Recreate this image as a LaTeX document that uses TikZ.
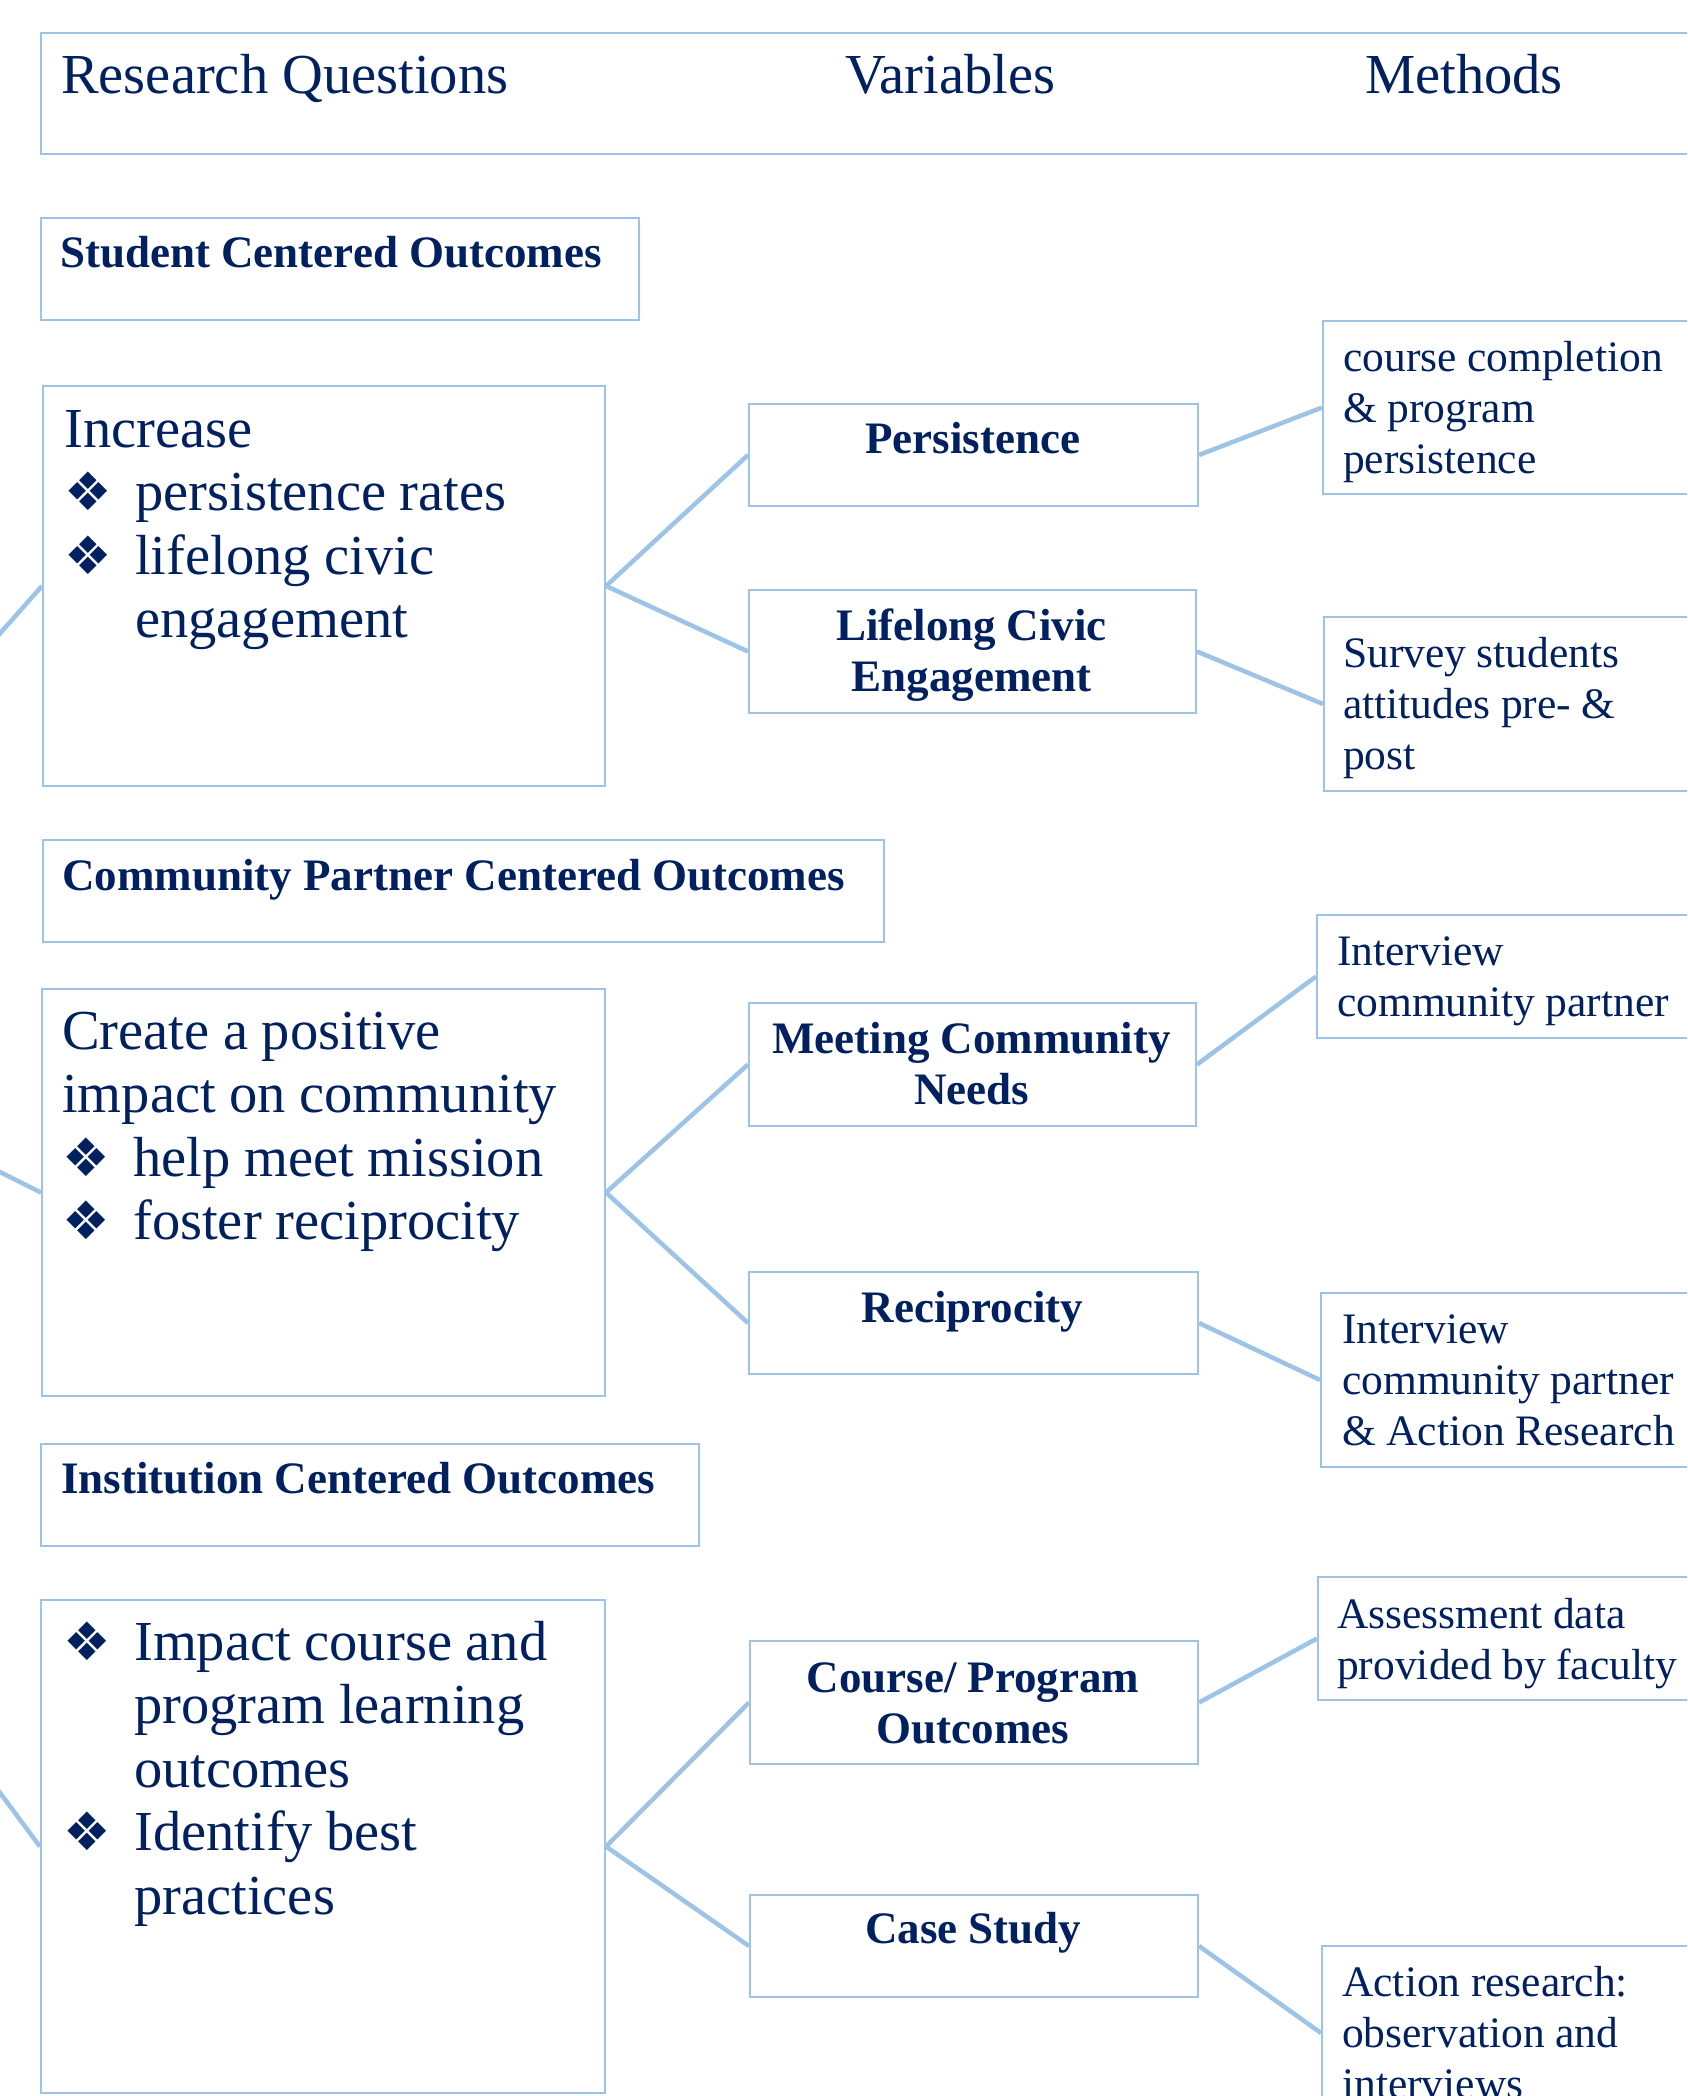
\documentclass[tikz,border=0pt]{standalone}
\usepackage{fontspec}
\setmainfont{Liberation Serif}
\newfontfamily\bulfont{DejaVu Sans}
\definecolor{navy}{HTML}{002060}
\definecolor{lblue}{HTML}{9DC3E6}
\newcommand{\bul}{\makebox[71pt][l]{\bulfont\fontsize{53}{53}\selectfont ❖}}
\newcommand{\ind}{\hspace*{71pt}}
\newcommand{\rigid}{\spaceskip=0.24em plus 0pt minus 0pt\relax}
\tikzset{
  box/.style={draw=lblue, line width=2pt, inner sep=0pt, anchor=north west, rectangle},
  title/.style={inner sep=0pt, anchor=base west, text=navy, font=\fontsize{56.5}{63.5}\selectfont},
  big/.style={inner sep=0pt, anchor=base west, text width=540pt, align=left, text=navy, font=\fontsize{56.5}{63.5}\selectfont},
  hd/.style={inner sep=0pt, anchor=base west, text=navy, font=\bfseries\fontsize{45}{51}\selectfont},
  var/.style={inner sep=0pt, anchor=base, text width=440pt, align=center, text=navy, font=\bfseries\fontsize{45}{51}\selectfont},
  meth/.style={inner sep=0pt, anchor=base west, text width=420pt, align=left, text=navy, font=\fontsize{43.5}{51}\selectfont},
  conn/.style={draw=lblue, line width=4.5pt}
}
\begin{document}
\begin{tikzpicture}[x=1pt, y=-1pt]
\useasboundingbox (0,0) rectangle (1687,2096);
\clip (0,0) rectangle (1687,2096);
% boxes
\node[box, minimum width=1680pt, minimum height=121pt] (hdr) at (40,32) {};
\node[box, minimum width=598pt, minimum height=102pt] (stud) at (40,217) {};
\node[box, minimum width=562pt, minimum height=400pt] (inc) at (42,385) {};
\node[box, minimum width=449pt, minimum height=102pt] (pers) at (748,403) {};
\node[box, minimum width=447pt, minimum height=123pt] (life) at (748,589) {};
\node[box, minimum width=400pt, minimum height=173pt] (cc) at (1322,320) {};
\node[box, minimum width=400pt, minimum height=174pt] (surv) at (1323,616) {};
\node[box, minimum width=841pt, minimum height=102pt] (comm) at (42,839) {};
\node[box, minimum width=563pt, minimum height=407pt] (create) at (41,988) {};
\node[box, minimum width=447pt, minimum height=123pt] (meet) at (748,1002) {};
\node[box, minimum width=449pt, minimum height=102pt] (recip) at (748,1271) {};
\node[box, minimum width=400pt, minimum height=123pt] (int1) at (1316,914) {};
\node[box, minimum width=400pt, minimum height=174pt] (int2) at (1320,1292) {};
\node[box, minimum width=658pt, minimum height=102pt] (inst) at (40,1443) {};
\node[box, minimum width=564pt, minimum height=493pt] (impact) at (40,1599) {};
\node[box, minimum width=448pt, minimum height=123pt] (course) at (749,1640) {};
\node[box, minimum width=448pt, minimum height=102pt] (case) at (749,1894) {};
\node[box, minimum width=400pt, minimum height=123pt] (assess) at (1317,1576) {};
\node[box, minimum width=400pt, minimum height=174pt] (action) at (1321,1945) {};
% texts
\node[title] (tRQ) at (61,93) {Research Questions};
\node[title] (tVar) at (845,93) {Variables};
\node[title] (tMeth) at (1365,93) {Methods};
\node[hd] (tStud) at (60,267) {Student Centered Outcomes};
\node[hd] (tComm) at (62,890) {Community Partner Centered Outcomes};
\node[hd] (tInst) at (61,1493) {Institution Centered Outcomes};
\node[big] (tInc) at (64,447) {\rigid Increase\\ \bul persistence rates\\ \bul lifelong civic\\ \ind engagement};
\node[big] (tCreate) at (62,1049) {\rigid Create a positive\\ impact on community\\ \bul help meet mission\\ \bul foster reciprocity};
\node[big] (tImpact) at (63,1660) {\rigid\bul Impact course and\\ \ind program learning\\ \ind outcomes\\ \bul Identify best\\ \ind practices};
\node[var] (tPers) at (972.5,453) {Persistence};
\node[var] (tLife) at (971.5,640) {\rigid Lifelong Civic\\ Engagement};
\node[var] (tMeet) at (971.5,1053) {\rigid Meeting Community\\ Needs};
\node[var] (tRecip) at (972.5,1322) {Reciprocity};
\node[var] (tCourse) at (973,1692) {\rigid Course/ Program\\ Outcomes};
\node[var] (tCase) at (973,1943) {\rigid Case Study};
\node[meth] (tCC) at (1343,371) {\rigid course completion\\ \& program\\ persistence};
\node[meth] (tSurv) at (1343,667) {\rigid Survey students\\ attitudes pre- \&\\ post};
\node[meth] (tInt1) at (1337,965) {\rigid Interview\\ community partner};
\node[meth] (tInt2) at (1342,1343) {\rigid Interview\\ community partner\\ \& Action Research};
\node[meth] (tAssess) at (1337,1628) {\rigid Assessment data\\ provided by faculty};
\node[meth] (tAction) at (1342,1996) {\rigid Action research:\\ observation and\\ interviews};
% free ends on the left
\coordinate (l1) at (-20,656);
\coordinate (l2) at (-20,1162);
\coordinate (l3) at (-20,1766);
% connectors
\draw[conn] (l1) -- (inc.west);
\draw[conn] (l2) -- (create.west);
\draw[conn] (l3) -- (impact.west);
\draw[conn] (inc.east) -- (pers.west);
\draw[conn] (inc.east) -- (life.west);
\draw[conn] (pers.east) -- (cc.west);
\draw[conn] (life.east) -- (surv.west);
\draw[conn] (create.east) -- (meet.west);
\draw[conn] (create.east) -- (recip.west);
\draw[conn] (meet.east) -- (int1.west);
\draw[conn] (recip.east) -- (int2.west);
\draw[conn] (impact.east) -- (course.west);
\draw[conn] (impact.east) -- (case.west);
\draw[conn] (course.east) -- (assess.west);
\draw[conn] (case.east) -- (action.west);
\end{tikzpicture}
\end{document}
